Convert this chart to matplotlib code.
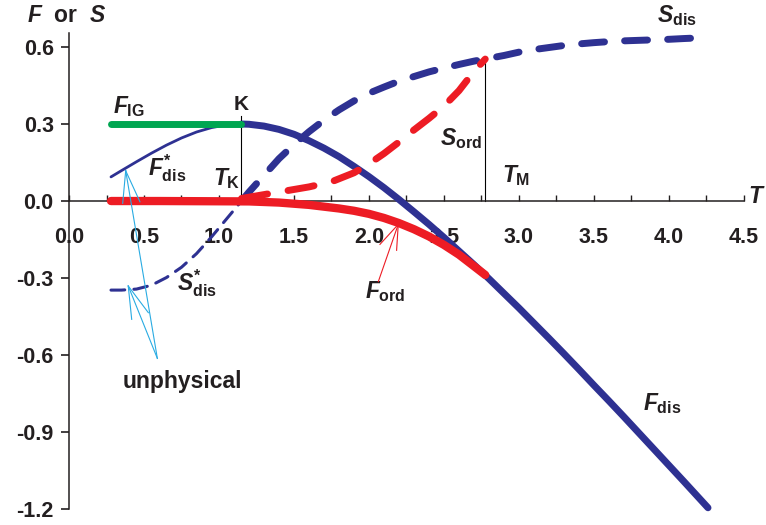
import matplotlib.pyplot as plt
from matplotlib.ticker import MultipleLocator

plt.rcParams['font.family'] = 'Liberation Sans'
plt.rcParams['font.weight'] = 'bold'
plt.rcParams['mathtext.fontset'] = 'custom'
plt.rcParams['mathtext.rm'] = 'Liberation Sans:bold'
plt.rcParams['mathtext.it'] = 'Liberation Sans:bold:italic'
plt.rcParams['mathtext.bf'] = 'Liberation Sans:bold'

NAVY = '#2E3192'
RED = '#ED1C24'
GREEN = '#00A651'
CYAN = '#29ABE2'
INK = '#231F20'

# characteristic temperatures
T_K = 1.15
T_M = 2.775
F_K = 0.30
S_M = 0.553

# ideal-glass free energy (flat)
T_ig = [0.28, 1.15]
F_ig = [0.30, 0.30]

# disordered free energy, physical part (T > T_K)
T_fdis = [1.15, 1.2, 1.3, 1.4, 1.5, 1.6, 1.7, 1.8, 1.9, 2.0, 2.1, 2.2, 2.3, 2.4, 2.5,
          2.6, 2.7, 2.8, 2.9, 3.0, 3.1, 3.2, 3.3, 3.4, 3.5, 3.6, 3.7, 3.8, 3.9, 4.0,
          4.1, 4.26]
F_dis = [0.300, 0.299, 0.292, 0.279, 0.260, 0.235, 0.206, 0.173, 0.135, 0.095, 0.052,
         0.006, -0.042, -0.091, -0.142, -0.195, -0.248, -0.303, -0.360, -0.417, -0.476,
         -0.535, -0.595, -0.656, -0.718, -0.779, -0.841, -0.904, -0.967, -1.030, -1.093,
         -1.195]

# disordered entropy, physical part
T_sdis = [1.15, 1.2, 1.3, 1.4, 1.5, 1.6, 1.7, 1.8, 1.9, 2.0, 2.1, 2.2, 2.3, 2.4, 2.5,
          2.6, 2.7, 2.8, 2.9, 3.0, 3.1, 3.2, 3.3, 3.4, 3.5, 3.6, 3.7, 3.8, 3.9, 4.0,
          4.1, 4.22]
S_dis = [0.0, 0.035, 0.10, 0.165, 0.22, 0.27, 0.315, 0.355, 0.39, 0.42, 0.444, 0.467,
         0.485, 0.503, 0.518, 0.532, 0.545, 0.556, 0.567, 0.58, 0.59, 0.598, 0.606,
         0.612, 0.617, 0.621, 0.624, 0.626, 0.628, 0.63, 0.633, 0.636]

# unphysical continuation below T_K
T_low = [0.28, 0.35, 0.45, 0.55, 0.65, 0.75, 0.85, 0.95, 1.05, 1.15]
F_dis_star = [0.094, 0.1185, 0.153, 0.1865, 0.2178, 0.2456, 0.2688, 0.286, 0.2965, 0.300]
S_dis_star = [-0.347, -0.347, -0.343, -0.328, -0.298, -0.258, -0.205, -0.14, -0.07, 0.0]

# ordered phase
T_ford = [0.28, 0.6, 1.0, 1.2, 1.4, 1.6, 1.8, 1.9, 2.0, 2.1, 2.2, 2.3, 2.4, 2.5, 2.6,
          2.7, 2.775]
F_ord = [0.0, 0.0, -0.001, -0.0015, -0.006, -0.015, -0.029, -0.038, -0.050, -0.066,
         -0.086, -0.110, -0.138, -0.171, -0.209, -0.254, -0.288]
T_sord = [1.15, 1.3, 1.45, 1.6, 1.75, 1.9, 2.0, 2.1, 2.2, 2.3, 2.4, 2.5, 2.6, 2.7, 2.775]
S_ord = [0.01, 0.025, 0.04, 0.055, 0.075, 0.11, 0.145, 0.185, 0.23, 0.277, 0.322, 0.37,
         0.43, 0.505, 0.553]

x_ticks = [0.0, 0.5, 1.0, 1.5, 2.0, 2.5, 3.0, 3.5, 4.0, 4.5]
x_labels = ['0.0', '0.5', '1.0', '1.5', '2.0', '2.5', '3.0', '3.5', '4.0', '4.5']
y_ticks = [-1.2, -0.9, -0.6, -0.3, 0.0, 0.3, 0.6]
y_labels = ['-1.2', '-0.9', '-0.6', '-0.3', '0.0', '0.3', '0.6']

# pointer lines: (tip, head1, head2, tail)
unphys_arrows = [
    ((0.378, 0.118), (0.358, -0.009), (0.473, -0.003), (0.589, -0.613)),
    ((0.395, -0.331), (0.418, -0.461), (0.529, -0.435), (0.589, -0.613)),
]
ford_arrow = ((2.195, -0.091), (2.073, -0.169), (2.184, -0.192), (2.062, -0.314))

fig = plt.figure(figsize=(7.66, 5.25), dpi=100)
ax = fig.add_axes([69 / 766, 3.1 / 525, 4.65 * 150 / 766, 2.0 * 256.7 / 525])
ax.set_xlim(0, 4.65)
ax.set_ylim(-1.25, 0.75)

# curves
ax.plot(T_fdis, F_dis, color=NAVY, lw=5, solid_capstyle='round', zorder=3)
ax.plot(T_low, F_dis_star, color=NAVY, lw=2, solid_capstyle='round', zorder=3)
ax.plot(T_sdis, S_dis, color=NAVY, lw=5, dashes=(3.3, 2.9), dash_capstyle='round', zorder=4)
ax.plot(T_low, S_dis_star, color=NAVY, lw=2.2, dashes=(4.5, 3.0), dash_capstyle='round', zorder=4)
ax.plot(T_ig, F_ig, color=GREEN, lw=5, solid_capstyle='round', zorder=5)
ax.plot(T_ford, F_ord, color=RED, lw=6, solid_capstyle='round', zorder=5)
ax.plot(T_sord, S_ord, color=RED, lw=5, dashes=(3.8, 3.0), dash_capstyle='round', zorder=6)

# vertical markers at T_K and T_M
ax.plot([T_K, T_K], [0, 0.33], color='black', lw=0.8, zorder=2)
ax.plot([T_M, T_M], [0, S_M], color='black', lw=0.8, zorder=2)

# "unphysical" pointers
for tip, h1, h2, tail in unphys_arrows:
    for p in (h1, h2, tail):
        ax.plot([tip[0], p[0]], [tip[1], p[1]], color=CYAN, lw=0.8, zorder=7)
tip, h1, h2, tail = ford_arrow
for p in (h1, h2, tail):
    ax.plot([tip[0], p[0]], [tip[1], p[1]], color=RED, lw=0.8, zorder=7)

# axes
for side in ('top', 'right'):
    ax.spines[side].set_visible(False)
ax.spines['bottom'].set_position(('data', 0))
ax.spines['bottom'].set_bounds(0, 4.5)
ax.spines['left'].set_bounds(-1.2, 0.654)
for side in ('bottom', 'left'):
    ax.spines[side].set_color(INK)
    ax.spines[side].set_linewidth(1.1)

ax.set_xticks(x_ticks, x_labels)
ax.xaxis.set_minor_locator(MultipleLocator(0.25))
ax.set_yticks(y_ticks, y_labels)
ax.tick_params(axis='x', which='both', direction='in', length=4, width=1, color=INK,
               pad=19, labelsize=15.5, labelcolor=INK)
ax.tick_params(axis='y', direction='out', length=6, width=1.2, color=INK,
               pad=5, labelsize=15.5, labelcolor=INK)
for lab in ax.get_xticklabels() + ax.get_yticklabels():
    lab.set_fontweight('bold')

# labels
fs = 16.5
txt = dict(color=INK, fontsize=fs, ha='left', va='baseline')
ax.text(-0.28, 0.697, r'$F$  or  $S$', **txt)
ax.text(0.293, 0.343, r'$F_{\rm IG}$', **txt)
ax.text(T_K, 0.354, 'K', color=INK, fontsize=15, ha='center', va='baseline')
ax.text(0.527, 0.101, r'$F^{*}_{\rm dis}$', **txt)
ax.text(0.96, 0.062, r'$T_{\rm K}$', **txt)
ax.text(2.473, 0.218, r'$S_{\rm ord}$', **txt)
ax.text(2.887, 0.074, r'$T_{\rm M}$', **txt)
ax.text(3.92, 0.697, r'$S_{\rm dis}$', **txt)
ax.text(4.53, -0.008, r'$T$', **txt)
ax.text(1.973, -0.378, r'$F_{\rm ord}$', **txt)
ax.text(3.827, -0.815, r'$F_{\rm dis}$', **txt)
ax.text(0.72, -0.347, r'$S^{*}_{\rm dis}$', **txt)
ax.text(0.36, -0.728, 'unphysical', **txt)

fig.savefig('out.png', dpi=100)
